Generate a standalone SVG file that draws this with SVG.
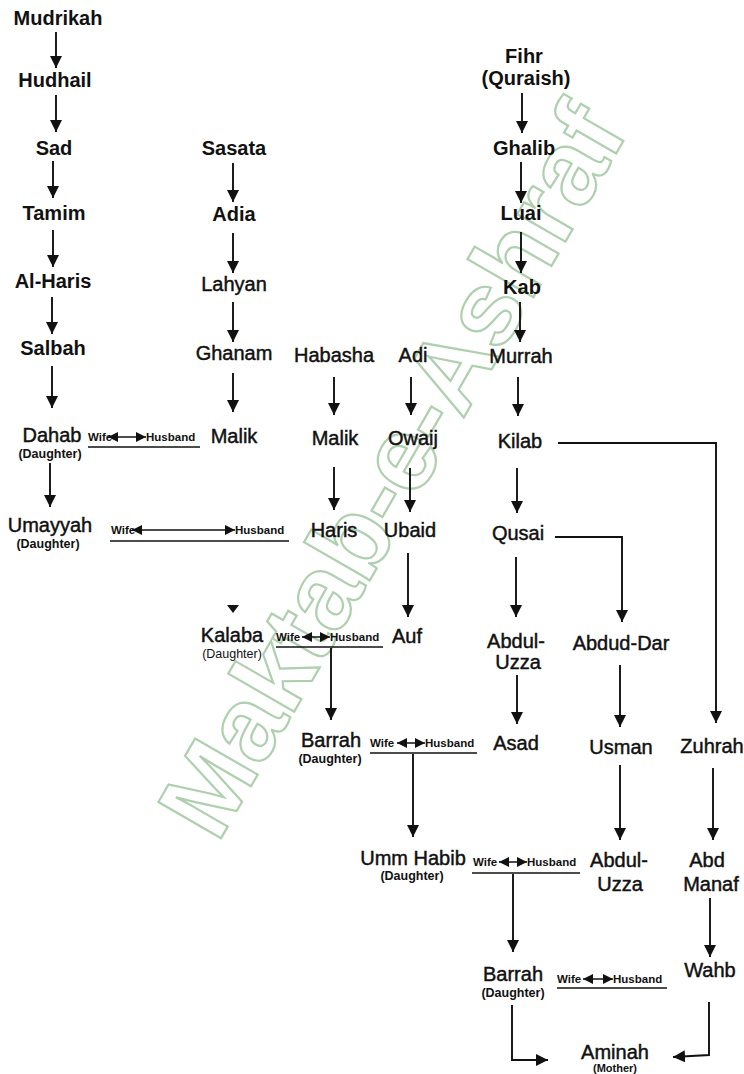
<svg xmlns="http://www.w3.org/2000/svg" width="744" height="1074" viewBox="0 0 744 1074">
<style>
.n{font-family:"Liberation Sans",Arial,sans-serif;font-size:20px;fill:#111;stroke:#111;stroke-width:0.45;text-anchor:middle}
.b{font-weight:bold;stroke-width:0}
.d{font-family:"Liberation Sans",Arial,sans-serif;font-size:12.5px;font-weight:bold;fill:#111;text-anchor:middle}
.w{font-family:"Liberation Sans",Arial,sans-serif;font-size:11.5px;font-weight:bold;fill:#111}
.c{stroke:#111;stroke-width:1.9;fill:none}
.u{stroke:#111;stroke-width:1.7;fill:none}
.dh{stroke:#111;stroke-width:1.5;fill:none}
.wm{font-family:"Liberation Sans",Arial,sans-serif;font-size:105px;font-weight:bold;fill:none;stroke:#afd0af;stroke-width:2.2;text-anchor:middle}
</style>
<defs>
<marker id="ah" markerUnits="userSpaceOnUse" markerWidth="13" markerHeight="12" refX="12" refY="6" orient="auto">
<path d="M0,0 L12,6 L0,12 z" fill="#111"/>
</marker>
<marker id="sh" markerUnits="userSpaceOnUse" markerWidth="11" markerHeight="11" refX="10" refY="5" orient="auto-start-reverse">
<path d="M0,0 L10,5 L0,10 z" fill="#111"/>
</marker>
</defs>
<rect width="744" height="1074" fill="#fff"/>
<g id="watermark">
<text class="wm" x="392" y="506" transform="rotate(-60 392 470)">Maktab-e-Ashraf</text>
</g>
<g id="connectors">
<line class="c" x1="56" y1="32" x2="56" y2="68" marker-end="url(#ah)"/>
<line class="c" x1="56" y1="95" x2="56" y2="132" marker-end="url(#ah)"/>
<line class="c" x1="53" y1="161" x2="53" y2="198" marker-end="url(#ah)"/>
<line class="c" x1="53" y1="230" x2="53" y2="267" marker-end="url(#ah)"/>
<line class="c" x1="52" y1="297" x2="52" y2="334" marker-end="url(#ah)"/>
<line class="c" x1="52" y1="366" x2="52" y2="408" marker-end="url(#ah)"/>
<line class="c" x1="50" y1="463" x2="50" y2="507" marker-end="url(#ah)"/>
<line class="c" x1="233" y1="163" x2="233" y2="202" marker-end="url(#ah)"/>
<line class="c" x1="233" y1="233" x2="233" y2="273" marker-end="url(#ah)"/>
<line class="c" x1="233" y1="302" x2="233" y2="342" marker-end="url(#ah)"/>
<line class="c" x1="233" y1="373" x2="233" y2="412" marker-end="url(#ah)"/>
<path d="M227,605 L239,605 L233,613 z" fill="#111"/>
<line class="c" x1="334" y1="377" x2="334" y2="415" marker-end="url(#ah)"/>
<line class="c" x1="334" y1="467" x2="334" y2="510" marker-end="url(#ah)"/>
<line class="c" x1="411" y1="377" x2="411" y2="415" marker-end="url(#ah)"/>
<line class="c" x1="410" y1="468" x2="410" y2="512" marker-end="url(#ah)"/>
<line class="c" x1="408" y1="553" x2="408" y2="617" marker-end="url(#ah)"/>
<line class="c" x1="522" y1="93" x2="522" y2="133" marker-end="url(#ah)"/>
<line class="c" x1="521" y1="162" x2="521" y2="203" marker-end="url(#ah)"/>
<line class="c" x1="521" y1="232" x2="521" y2="273" marker-end="url(#ah)"/>
<line class="c" x1="520" y1="302" x2="520" y2="342" marker-end="url(#ah)"/>
<line class="c" x1="518" y1="377" x2="518" y2="416" marker-end="url(#ah)"/>
<line class="c" x1="517" y1="468" x2="517" y2="513" marker-end="url(#ah)"/>
<line class="c" x1="516" y1="557" x2="516" y2="617" marker-end="url(#ah)"/>
<line class="c" x1="517" y1="675" x2="517" y2="724" marker-end="url(#ah)"/>
<polyline class="c" points="558,443 716,443 716,723" marker-end="url(#ah)"/>
<polyline class="c" points="555,537 622,537 622,622" marker-end="url(#ah)"/>
<line class="c" x1="620" y1="665" x2="620" y2="727" marker-end="url(#ah)"/>
<line class="c" x1="620" y1="765" x2="620" y2="840" marker-end="url(#ah)"/>
<line class="c" x1="713" y1="768" x2="713" y2="840" marker-end="url(#ah)"/>
<line class="c" x1="710" y1="898" x2="710" y2="957" marker-end="url(#ah)"/>
<line class="u" x1="88" y1="447" x2="200" y2="447"/>
<line class="u" x1="110" y1="541" x2="289" y2="541"/>
<line class="u" x1="276" y1="647" x2="383" y2="647"/>
<polyline class="c" points="331,648 331,720" marker-end="url(#ah)"/>
<line class="u" x1="370" y1="753" x2="477" y2="753"/>
<polyline class="c" points="413,754 413,837" marker-end="url(#ah)"/>
<line class="u" x1="472" y1="873" x2="580" y2="873"/>
<polyline class="c" points="513,874 513,952" marker-end="url(#ah)"/>
<line class="u" x1="557" y1="988" x2="667" y2="988"/>
<polyline class="c" points="512,1005 512,1060 548,1060" marker-end="url(#ah)"/>
<polyline class="c" points="709,1002 709,1055 673,1057" marker-end="url(#ah)"/>
</g>
<g id="marriages">
<text class="w" x="88" y="441">Wife</text>
<line class="dh" x1="108" y1="437" x2="146" y2="437" marker-start="url(#sh)" marker-end="url(#sh)"/>
<text class="w" x="146" y="441">Husband</text>
<text class="w" x="111" y="534">Wife</text>
<line class="dh" x1="132" y1="530" x2="235" y2="530" marker-start="url(#sh)" marker-end="url(#sh)"/>
<text class="w" x="235" y="534">Husband</text>
<text class="w" x="276" y="641">Wife</text>
<line class="dh" x1="302" y1="637" x2="330" y2="637" marker-start="url(#sh)" marker-end="url(#sh)"/>
<text class="w" x="330" y="641">Husband</text>
<text class="w" x="370" y="747">Wife</text>
<line class="dh" x1="397" y1="743" x2="425" y2="743" marker-start="url(#sh)" marker-end="url(#sh)"/>
<text class="w" x="425" y="747">Husband</text>
<text class="w" x="473" y="866">Wife</text>
<line class="dh" x1="499" y1="862" x2="527" y2="862" marker-start="url(#sh)" marker-end="url(#sh)"/>
<text class="w" x="527" y="866">Husband</text>
<text class="w" x="557" y="983">Wife</text>
<line class="dh" x1="583" y1="979" x2="613" y2="979" marker-start="url(#sh)" marker-end="url(#sh)"/>
<text class="w" x="613" y="983">Husband</text>
</g>
<g id="n-mudrikah"><text class="n b" x="58" y="25">Mudrikah</text></g>
<g id="n-hudhail"><text class="n b" x="55" y="87">Hudhail</text></g>
<g id="n-sad"><text class="n b" x="54" y="155">Sad</text></g>
<g id="n-tamim"><text class="n b" x="54" y="220">Tamim</text></g>
<g id="n-alharis"><text class="n b" x="53" y="288">Al-Haris</text></g>
<g id="n-salbah"><text class="n b" x="53" y="355">Salbah</text></g>
<g id="n-dahab"><text class="n" x="52" y="442">Dahab</text><text class="d" x="50" y="458">(Daughter)</text></g>
<g id="n-umayyah"><text class="n" x="50" y="532">Umayyah</text><text class="d" x="48" y="548">(Daughter)</text></g>
<g id="n-sasata"><text class="n b" x="234" y="155">Sasata</text></g>
<g id="n-adia"><text class="n b" x="234" y="221">Adia</text></g>
<g id="n-lahyan"><text class="n" x="234" y="291">Lahyan</text></g>
<g id="n-ghanam"><text class="n" x="234" y="360">Ghanam</text></g>
<g id="n-malik1"><text class="n" x="234" y="443">Malik</text></g>
<g id="n-kalaba"><text class="n" x="232" y="642">Kalaba</text><text class="d" x="232" y="658" style="font-weight:normal">(Daughter)</text></g>
<g id="n-habasha"><text class="n" x="334" y="362">Habasha</text></g>
<g id="n-malik2"><text class="n" x="335" y="445">Malik</text></g>
<g id="n-haris"><text class="n" x="334" y="537">Haris</text></g>
<g id="n-adi"><text class="n" x="413" y="362">Adi</text></g>
<g id="n-owaij"><text class="n" x="413" y="445">Owaij</text></g>
<g id="n-ubaid"><text class="n" x="410" y="537">Ubaid</text></g>
<g id="n-auf"><text class="n" x="407" y="643">Auf</text></g>
<g id="n-barrah1"><text class="n" x="331" y="747">Barrah</text><text class="d" x="330" y="763">(Daughter)</text></g>
<g id="n-fihr"><text class="n b" x="524" y="63">Fihr</text><text class="n b" x="526" y="85">(Quraish)</text></g>
<g id="n-ghalib"><text class="n b" x="524" y="155">Ghalib</text></g>
<g id="n-luai"><text class="n b" x="521" y="220">Luai</text></g>
<g id="n-kab"><text class="n b" x="522" y="294">Kab</text></g>
<g id="n-murrah"><text class="n" x="521" y="363">Murrah</text></g>
<g id="n-kilab"><text class="n" x="520" y="448">Kilab</text></g>
<g id="n-qusai"><text class="n" x="518" y="540">Qusai</text></g>
<g id="n-abdululzza1"><text class="n" x="516" y="648">Abdul-</text><text class="n" x="518" y="669">Uzza</text></g>
<g id="n-abduddar"><text class="n" x="621" y="650">Abdud-Dar</text></g>
<g id="n-asad"><text class="n" x="516" y="750">Asad</text></g>
<g id="n-usman"><text class="n" x="621" y="754">Usman</text></g>
<g id="n-zuhrah"><text class="n" x="712" y="753">Zuhrah</text></g>
<g id="n-ummhabib"><text class="n" x="413" y="865">Umm Habib</text><text class="d" x="412" y="880">(Daughter)</text></g>
<g id="n-abdulruzza2"><text class="n" x="619" y="867">Abdul-</text><text class="n" x="620" y="891">Uzza</text></g>
<g id="n-abdmanaf"><text class="n" x="707" y="867">Abd</text><text class="n" x="711" y="891">Manaf</text></g>
<g id="n-barrah2"><text class="n" x="513" y="981">Barrah</text><text class="d" x="513" y="997">(Daughter)</text></g>
<g id="n-wahb"><text class="n" x="710" y="977">Wahb</text></g>
<g id="n-aminah"><text class="n" x="615" y="1059">Aminah</text><text class="d" x="615" y="1072" style="font-size:11px">(Mother)</text></g>
</svg>
